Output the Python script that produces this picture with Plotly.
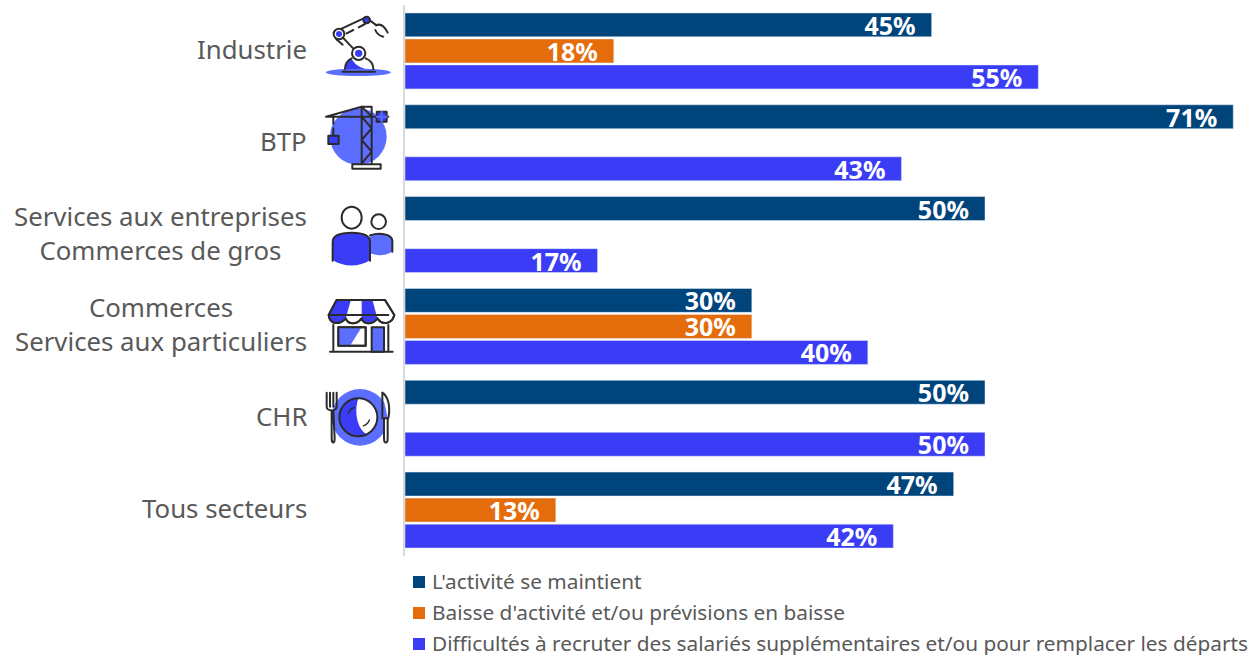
import base64
import plotly.graph_objects as go

categories = ["Industrie", "BTP", "Services aux entreprises<br>Commerces de gros",
              "Commerces<br>Services aux particuliers", "CHR", "Tous secteurs"]
series_names = ["L'activité se maintient", "Baisse d'activité et/ou prévisions en baisse",
                "Difficultés à recruter des salariés supplémentaires et/ou pour remplacer les départs"]
maintien = [45.4, 71.4, 50.0, 29.9, 50.0, 47.3]
baisse = [18.0, None, None, 29.9, None, 13.0]
difficultes = [54.6, 42.8, 16.6, 39.9, 50.0, 42.1]
colors = ["#00447C", "#E46C0A", "#3A3DF5"]
FONT = "Noto Sans"
GREY = "#595959"

W, H = 1249, 655
L, T, B = 405, 5, 99
PW, PH = W - L, H - T - B
def xp(px): return (px - L) / PW
def yp(py): return 1 - (py - T) / PH

BLUE, LIGHT, INK = "#3A3DF5", "#5C6EFF", "#2B2B2B"
def svg(w, h, body):
    s = (f'<svg xmlns="http://www.w3.org/2000/svg" width="{w}" height="{h}" viewBox="0 0 {w} {h}">'
         f'<g fill="none" stroke="{INK}" stroke-width="6" stroke-linecap="round" stroke-linejoin="round">{body}</g></svg>')
    return "data:image/svg+xml;base64," + base64.b64encode(s.encode()).decode()

robot_crane = svg(270, 570, f'''
<ellipse cx="115" cy="217" rx="98" ry="11" fill="{LIGHT}" stroke="none"/>
<path d="M75 207C78 190 86 180 95 176C105 195 125 205 140 207Z" fill="{BLUE}" stroke="none"/>
<path d="M75 207C75 192 84 180 95 175M137 175C150 180 160 192 160 207M68 215H165"/>
<path d="M66 110L100 146M49 118L68 134M60 88L131 55M80 100L100 90M116 82L135 72M150 62L170 76M168 76C185 68 196 84 203 98M166 90C170 100 180 108 190 110"/>
<circle cx="116" cy="160" r="20" fill="#fff"/><circle cx="116" cy="160" r="11" fill="{BLUE}" stroke="none"/>
<circle cx="57" cy="102" r="16" fill="#fff"/><circle cx="57" cy="102" r="9" fill="{BLUE}" stroke="none"/>
<circle cx="140" cy="60" r="10" fill="{BLUE}"/>
<circle cx="115" cy="410" r="85" fill="{LIGHT}" stroke="none"/>
<path d="M18 350H205M18 350L125 320H155M125 320V493M155 320V490M125 350L155 385L125 420L155 455L125 490M125 320L155 350"/>
<path d="M97 493H182V506H97ZM40 350V372M40 385V405"/>
<rect x="25" y="407" width="31" height="25" fill="{BLUE}"/>
<rect x="170" y="335" width="30" height="30" fill="{BLUE}"/><path d="M185 335V365M170 350H200" stroke="{LIGHT}"/>
''')

people_shop_plate = svg(270, 810, f'''
<ellipse cx="95" cy="83" rx="30" ry="33" fill="#fff"/><circle cx="176" cy="95" r="22" fill="#fff"/>
<path d="M150 135C170 128 215 130 217 152V185C195 198 170 198 150 190Z" fill="{LIGHT}" stroke="none"/>
<path d="M150 136C175 128 215 130 217 152V185"/>
<path d="M38 210V155C38 135 60 128 95 128C130 128 150 135 150 155V210C120 232 70 232 38 210Z" fill="{BLUE}" stroke="none"/>
<path d="M38 212V155C38 135 60 128 95 128C130 128 150 135 150 155V212"/>
<path d="M50 330H195L223 375C215 405 185 405 172 385C160 405 130 405 125 385C110 405 85 405 77 385C60 405 30 405 26 375Z" fill="#fff"/>
<path d="M50 332H92L77 385C60 405 30 405 26 375Z" fill="{BLUE}" stroke="none"/>
<path d="M125 332H158L172 385C160 403 130 403 125 385Z" fill="{BLUE}" stroke="none"/>
<path d="M50 330H195L223 375C215 405 185 405 172 385C160 405 130 405 125 385C110 405 85 405 77 385C60 405 30 405 26 375ZM30 375H205"/>
<path d="M40 405V485M205 405V485M30 485H218"/>
<rect x="55" y="412" width="82" height="55" fill="#fff"/>
<path d="M55 412H125L90 467H55Z" fill="{LIGHT}" stroke="none"/>
<rect x="55" y="412" width="82" height="55"/>
<rect x="155" y="412" width="37" height="73" fill="{LIGHT}"/>
<circle cx="120" cy="682" r="85" fill="{LIGHT}" stroke="none"/>
<circle cx="115" cy="682" r="57" fill="{BLUE}" stroke="none"/>
<path d="M115 625A57 57 0 0 1 140 733C115 720 100 670 115 625Z" fill="#fff" stroke="none"/>
<circle cx="115" cy="682" r="57"/>
<path d="M85 670C88 662 95 655 103 652M130 708C140 704 146 697 148 690" stroke-width="4"/>
<path d="M20 608V650C20 665 50 665 50 650V608M30 608V650M40 608V650M35 663V745C35 762 44 762 44 745L40 663"/>
<path d="M187 608C205 620 212 650 205 685H192V745C192 762 203 762 203 745V685M187 608V685" fill="#fff"/>
''')

fig = go.Figure()
for name, vals, col in zip(series_names, [maintien, baisse, difficultes], colors):
    fig.add_trace(go.Bar(
        y=categories, x=vals, name=name, orientation="h", marker_color=col,
        texttemplate="%{x:.0f}%\u00a0\u00a0", textposition="inside", insidetextanchor="end",
        textangle=0, constraintext="none", cliponaxis=False,
        textfont=dict(family=FONT, size=25, color="white", weight="bold"),
        hoverinfo="skip", showlegend=False))

annotations = [dict(xref="paper", yref="y", x=xp(309), y=c, text=c, showarrow=False, yshift=2,
                    xanchor="right", yanchor="middle", align="center",
                    font=dict(family=FONT, size=25.8, color=GREY)) for c in categories]
shapes = []
for name, col, cy in zip(series_names, colors, [582, 613, 644]):
    annotations.append(dict(xref="paper", yref="paper", x=xp(430), y=yp(cy - 1), text=name, showarrow=False,
                            xanchor="left", yanchor="middle",
                            font=dict(family=FONT, size=20.8, color=GREY)))
    shapes.append(dict(type="rect", xref="paper", yref="paper", x0=xp(413), x1=xp(425),
                       y0=yp(cy - 6), y1=yp(cy + 6), fillcolor=col, line_width=0))

images = [
    dict(source=robot_crane, xref="paper", yref="paper", x=xp(320), y=yp(0),
         sizex=90 / PW, sizey=190 / PH, sizing="stretch", xanchor="left", yanchor="top", layer="above"),
    dict(source=people_shop_plate, xref="paper", yref="paper", x=xp(320), y=yp(190),
         sizex=90 / PW, sizey=270 / PH, sizing="stretch", xanchor="left", yanchor="top", layer="above"),
]

fig.update_layout(
    width=W, height=H, margin=dict(l=L, r=0, t=T, b=B, pad=0),
    paper_bgcolor="white", plot_bgcolor="white",
    barmode="group", bargap=0.15, bargroupgap=0.08, showlegend=False,
    xaxis=dict(range=[0, PW / 11.6], visible=False, fixedrange=True),
    yaxis=dict(autorange="reversed", showticklabels=False, ticks="", showgrid=False,
               showline=True, linecolor="#D9D9D9", linewidth=2, fixedrange=True),
    annotations=annotations, shapes=shapes, images=images,
)
fig.write_html("out.html", config={"displayModeBar": False},
               post_script="document.body.style.margin='0';document.body.style.overflow='hidden';")
